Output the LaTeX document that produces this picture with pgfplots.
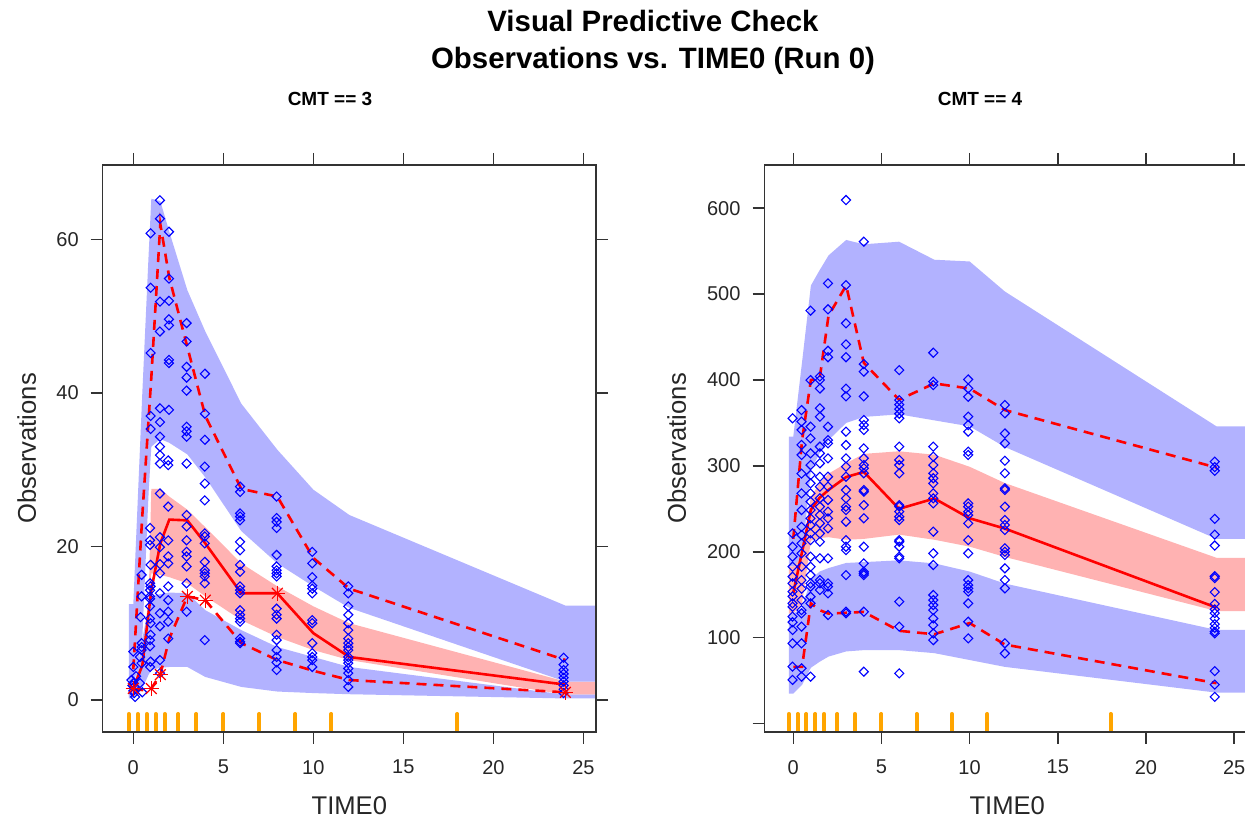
\documentclass[border=0pt]{standalone}
\usepackage{fontspec}
\setmainfont{Liberation Sans}
\usepackage{pgfplots}
\usepackage{pgfplotstable}
\pgfplotsset{compat=1.18}
\usepgfplotslibrary{fillbetween}

\definecolor{piblue}{RGB}{178,178,255}
\definecolor{pired}{RGB}{255,178,178}
\definecolor{rugorange}{RGB}{255,165,0}
\definecolor{axgray}{RGB}{51,51,51}

% prediction intervals (5th pct: lb, median: md, 95th pct: ub), CMT == 3
\pgfplotstableread{
x      ubhi  ublo  mdhi  mdlo  lbhi  lblo
-0.25  12.5  1.5   1.2   0.4   0.9   0.2
0      12.5  1.5   1.2   0.4   0.9   0.2
0.5    40    8     7     3     8     1.5
0.85   58    27    13    8     12    3.3
1      65.3  33    27.5  16.5  13.5  3.9
1.5    65    34    27.5  16.3  13.8  4.2
2      61    33.5  26.5  16    14    4.3
3      53.4  32    24.8  15.2  13.9  4.3
4      48    29    22.5  13.5  11.7  3.0
6      38.6  22    17.8  10.4  9.1   1.7
8      32.6  17.8  14.8  8.2   6.9   1.1
10     27.4  14.8  12.2  6.5   5.6   0.9
12     24.1  12    10    5.2   4.3   0.75
24     12.3  2.4   2.4   0.7   0.7   0.2
25.7   12.3  2.4   2.4   0.7   0.7   0.2
}\bandsA

% CMT == 4
\pgfplotstableread{
x      ubhi  ublo  mdhi  mdlo  lbhi  lblo
-0.25  334   183   183   128   128   35
0      334   183   183   128   128   35
0.5    421   195   200   140   135   45
1      510   295   264   213   168   65
1.5    528   315   280   216   177   72
2      545   330   291   217   181   78
3      563   350   303   214   187   84
4      558   357   314   215   188   85.5
6      561   360   317   220   190   85.5
8      540   353   313   214   186.5 82
10     538   346   299   206   177   74
12     503   322   280   194   163   66
24     346   215   193   131   109   36
25.9   346   215   193   131   109   36
}\bandsB

\pgfplotsset{
  vpc/.style={
    scale only axis, anchor=south west,
    height=283.5pt,
    axis on top,
    axis line style={axgray, line width=0.75pt},
    tick style={axgray, line width=0.75pt},
    tick align=outside, major tick length=6pt,
    tick pos=both, ticklabel pos=left,
    xtick={0,5,...,25},
    ticklabel style={font=\fontsize{10}{12}\selectfont, text=black!85},
    /pgf/number format/assume math mode=true,
    xticklabel style={yshift=-4.5pt},
    yticklabel style={xshift=-2.5pt},
    label style={font=\fontsize{12.8}{15}\selectfont, text=black!85},
    xlabel=TIME0, ylabel=Observations,
    xlabel style={at={([yshift=-37pt]axis description cs:0.5,0)}, anchor=center},
  },
  obs/.style={only marks, mark=square, mark size=1.6pt,
    mark options={rotate=45, draw=blue, line width=0.55pt, fill=none}},
  medline/.style={red, line width=1.3pt, no marks},
  pctline/.style={red, line width=1.3pt, no marks, dash pattern=on 5pt off 3.5pt},
  rug/.style={rugorange, line width=2pt, line cap=round, quiver={u=0,v=#1}},
}

\begin{document}
\begin{tikzpicture}

% ---------------- CMT == 3 ----------------
\begin{axis}[vpc, at={(51.35pt,45pt)}, width=246.65pt,
  xmin=-1.7, xmax=25.7, ymin=-4.17, ymax=69.7,
  ytick={0,20,40,60},
  ylabel style={at={([xshift=-38pt]axis description cs:0,0.5)}, anchor=center}]
\addplot[name path=mhA, draw=none] table[x=x,y=mdhi]{\bandsA};
\addplot[name path=mlA, draw=none] table[x=x,y=mdlo]{\bandsA};
\addplot[pired, draw=none] fill between[of=mhA and mlA];
\addplot[name path=uhA, draw=none] table[x=x,y=ubhi]{\bandsA};
\addplot[name path=ulA, draw=none] table[x=x,y=ublo]{\bandsA};
\addplot[piblue, draw=none] fill between[of=uhA and ulA];
\addplot[name path=lhA, draw=none] table[x=x,y=lbhi]{\bandsA};
\addplot[name path=llA, draw=none] table[x=x,y=lblo]{\bandsA};
\addplot[piblue, draw=none] fill between[of=lhA and llA];

\addplot[obs] coordinates {
(0,6.3) (0,4.3) (-0.1,2.6) (0,2.2) (0.05,1.7) (0,1.2) (0.05,0.9) (0.1,0.4) (-0.05,1.9) (0.15,3.1)
(0.46,16.3) (0.46,13.5) (0.4,10.8) (0.46,7.4) (0.46,6.9) (0.46,6.5) (0.37,5.6) (0.46,4.8) (0.37,2.2) (0.5,1.0)
(0.96,60.8) (0.96,53.7) (0.96,45.2) (0.96,37.0) (0.96,35.3) (0.93,22.4) (0.93,20.8) (0.93,20.2) (0.96,17.6)
(0.93,15.2) (0.96,14.8) (0.93,14.3) (0.93,13.5) (0.93,13.2) (0.93,12.2) (0.93,10.6) (0.96,10.0) (0.96,8.5)
(0.93,7.8) (0.93,7.0) (0.96,5.0) (0.93,4.3)
(1.48,65.1) (1.48,62.7) (1.48,51.9) (1.48,48.0) (1.48,38.0) (1.48,36.2) (1.48,34.3) (1.48,33.0) (1.48,31.9)
(1.48,30.8) (1.48,26.9) (1.48,21.2) (1.48,19.9) (1.48,17.7) (1.48,16.5) (1.48,13.9) (1.48,11.3) (1.48,9.6)
(1.48,5.2) (1.48,3.5)
(1.98,61.0) (1.98,54.9) (1.98,52.0) (1.98,49.6) (1.98,48.8) (1.98,44.3) (1.98,43.9) (1.98,37.8) (1.94,31.2)
(1.94,30.6) (1.94,25.2) (1.94,20.8) (1.94,18.7) (1.94,17.8) (1.94,14.8) (1.94,13.0) (1.94,11.5) (1.94,10.2)
(1.94,8.0)
(2.96,49.1) (2.96,46.7) (2.96,43.4) (2.96,42.0) (2.96,40.3) (2.96,35.6) (2.96,35.0) (2.96,34.3) (2.96,30.8)
(2.96,24.1) (2.96,22.6) (2.96,20.8) (2.96,19.3) (2.96,18.7) (2.96,17.4) (2.96,15.2) (2.96,11.5)
(3.98,42.5) (3.98,37.3) (3.98,33.9) (3.97,30.4) (3.97,28.2) (3.97,26.0) (3.97,21.7) (3.97,21.3) (3.97,20.4)
(3.97,18.0) (3.97,16.9) (3.97,16.5) (3.97,16.1) (3.97,15.2) (3.97,7.8)
(5.93,27.8) (5.93,27.1) (5.93,24.3) (5.93,23.9) (5.93,23.4) (5.93,20.6) (5.93,19.5) (5.93,17.6) (5.93,16.7)
(5.93,14.8) (5.93,14.3) (5.93,13.9) (5.93,11.7) (5.93,11.1) (5.93,10.6) (5.93,10.2) (5.93,8.0) (5.93,7.6)
(5.93,7.4)
(7.96,26.5) (7.96,23.7) (7.96,23.2) (7.96,22.4) (7.96,18.9) (7.96,17.4) (7.96,16.9) (7.96,16.5) (7.96,16.1)
(7.96,11.9) (7.96,11.1) (7.96,10.6) (7.96,8.5) (7.96,7.8) (7.96,6.5) (7.96,5.6) (7.96,4.9) (7.96,3.9)
(9.94,19.3) (9.94,17.8) (9.94,16.0) (9.94,14.9) (9.94,14.5) (9.94,13.9) (9.94,10.4) (9.94,10.0) (9.94,7.4)
(9.94,6.1) (9.94,5.6) (9.94,5.2) (9.94,4.3)
(11.94,14.8) (11.94,13.9) (11.94,12.2) (11.94,11.1) (11.94,10.0) (11.94,9.1) (11.94,8.0) (11.94,7.4)
(11.94,6.9) (11.94,6.5) (11.94,5.6) (11.94,5.2) (11.94,4.8) (11.94,4.1) (11.94,3.5) (11.94,2.6) (11.94,1.7)
(23.9,5.5) (23.9,4.6) (23.9,3.9) (23.9,3.4) (23.9,2.9) (23.9,2.4) (23.9,1.9) (23.9,1.4) (23.9,0.9)
};

\addplot[pctline] coordinates {(0,4) (0.5,24) (1,42) (1.5,62) (2,55) (3,46) (4,37) (6,27.5) (8,26.5) (10,18.5) (12,14.5) (24,5.2)};
\addplot[medline] coordinates {(0,1.5) (0.5,4.5) (1,14.3) (1.5,20.4) (2,23.5) (3,23.4) (4,20.4) (6,13.9) (8,13.9) (10,8.7) (12,5.6) (24,2.0)};
\addplot[pctline] coordinates {(0,1.4) (0.5,1.3) (1,1.5) (1.5,3.3) (2,8) (3,13.5) (4,13) (6,7.4) (8,5.2) (10,3.8) (12,2.6) (24,1.0)};
\addplot[only marks, mark=+, mark size=3.8pt, mark options={red, line width=0.6pt}] coordinates {(0,1.5) (1,1.5) (1.5,3.3) (3,13.5) (4,13) (8,13.9) (24,1.0)};
\addplot[only marks, mark=x, mark size=3.8pt, mark options={red, line width=0.6pt}] coordinates {(0,1.5) (1,1.5) (1.5,3.3) (3,13.5) (4,13) (8,13.9) (24,1.0)};

\addplot[rug=2.35] coordinates {(-0.25,-4.17) (0.25,-4.17) (0.75,-4.17) (1.25,-4.17) (1.75,-4.17) (2.5,-4.17) (3.5,-4.17) (5,-4.17) (7,-4.17) (9,-4.17) (11,-4.17) (18,-4.17)};
\end{axis}

% ---------------- CMT == 4 ----------------
\begin{axis}[vpc, at={(382.25pt,45pt)}, width=242.75pt,
  xmin=-1.63, xmax=25.9, ymin=-9.8, ymax=650.3,
  ytick={0,100,200,300,400,500,600},
  yticklabels={{},100,200,300,400,500,600},
  ylabel style={at={([xshift=-43.9pt]axis description cs:0,0.5)}, anchor=center}]
\addplot[name path=mhB, draw=none] table[x=x,y=mdhi]{\bandsB};
\addplot[name path=mlB, draw=none] table[x=x,y=mdlo]{\bandsB};
\addplot[pired, draw=none] fill between[of=mhB and mlB];
\addplot[name path=uhB, draw=none] table[x=x,y=ubhi]{\bandsB};
\addplot[name path=ulB, draw=none] table[x=x,y=ublo]{\bandsB};
\addplot[piblue, draw=none] fill between[of=uhB and ulB];
\addplot[name path=lhB, draw=none] table[x=x,y=lbhi]{\bandsB};
\addplot[name path=llB, draw=none] table[x=x,y=lblo]{\bandsB};
\addplot[piblue, draw=none] fill between[of=lhB and llB];

\addplot[obs] coordinates {
(-0.04,355.4) (-0.04,221.4) (-0.04,205.9) (-0.04,194.3) (-0.04,182.6) (-0.04,171) (-0.04,163.3) (-0.04,153.6)
(-0.04,148) (-0.04,140) (-0.04,136) (-0.04,124.5) (-0.04,118) (-0.04,109) (-0.04,93.4) (-0.04,66.3) (-0.04,50.8)
(0.47,365) (0.47,351.5) (0.47,341.8) (0.47,324.4) (0.47,312.7) (0.47,291) (0.47,268) (0.47,248.6) (0.47,229)
(0.47,219.5) (0.47,209.8) (0.47,198.2) (0.47,182.6) (0.47,167) (0.47,157) (0.47,143.8) (0.47,132.1)
(0.47,128.3) (0.47,112.8) (0.47,93.4) (0.47,64.3) (0.47,54.6)
(0.98,480.7) (0.98,399.9) (0.98,345.6) (0.98,332) (0.98,314.6) (0.98,301) (0.98,289.4) (0.98,279.7)
(0.98,268) (0.98,258.3) (0.98,248.6) (0.98,238.9) (0.98,231) (0.98,221.4) (0.98,213.6) (0.98,194.3)
(0.98,182.6) (0.98,172.9) (0.98,163.3) (0.98,159.4) (0.98,147.7) (0.98,140) (0.98,54.6)
(1.51,404) (1.51,400) (1.51,390) (1.51,367) (1.51,357.3) (1.51,322.4) (1.51,314.6) (1.51,303) (1.51,287.4)
(1.51,275.8) (1.51,262.2) (1.51,252.5) (1.51,242.8) (1.51,233.1) (1.51,221.4) (1.51,211.7) (1.51,192.4)
(1.51,167.1) (1.51,163.3) (1.51,155.5)
(1.97,512.5) (1.97,482.3) (1.97,434) (1.97,426.5) (1.97,345.6) (1.97,330) (1.97,326.2) (1.97,308.8)
(1.97,287.4) (1.97,275.8) (1.97,260.3) (1.97,246.7) (1.97,238.9) (1.97,227.3) (1.97,192.4) (1.97,163.3)
(1.97,159.4) (1.97,151.6) (1.97,126.4)
(2.99,609.5) (2.99,510.5) (2.99,466) (2.99,441.5) (2.99,426.5) (2.99,390) (2.99,381) (2.99,339.8) (2.99,324.3)
(2.99,308.8) (2.99,299.1) (2.99,287.4) (2.99,271.9) (2.99,262.2) (2.99,252.5) (2.99,248.6) (2.99,235)
(2.99,213.6) (2.99,205.9) (2.99,202) (2.99,172.9) (2.99,130.2) (2.99,128.3)
(4.0,561) (4.0,418.6) (4.0,409.7) (4.0,381) (4.0,353.4) (4.0,347.6) (4.0,341.8) (4.0,320.4) (4.0,308.8)
(4.0,301) (4.0,297.2) (4.0,291.4) (4.0,271.9) (4.0,270) (4.0,254.4) (4.0,239) (4.0,205.9) (4.0,186.5)
(4.0,176.8) (4.0,174.9) (4.0,172.9) (4.0,130.2) (4.0,60.4)
(6.01,411.5) (6.01,376.6) (6.01,371.3) (6.01,366) (6.01,360.7) (6.01,355.4) (6.01,322.4) (6.01,306.9)
(6.01,301) (6.01,291.4) (6.01,254.4) (6.01,252.5) (6.01,246.7) (6.01,240.8) (6.01,237) (6.01,213.6)
(6.01,211.7) (6.01,205.9) (6.01,194.3) (6.01,192.4) (6.01,141.9) (6.01,112.8) (6.01,58.5)
(7.94,431.7) (7.94,398) (7.94,394) (7.94,322.4) (7.94,310.7) (7.94,301) (7.94,291.4) (7.94,285.6)
(7.94,279.7) (7.94,268) (7.94,262.2) (7.94,256.4) (7.94,223.4) (7.94,198.2) (7.94,184.6) (7.94,149.7)
(7.94,143.8) (7.94,138) (7.94,132.1) (7.94,122.4) (7.94,114.6) (7.94,104.9) (7.94,97.1)
(9.92,400.6) (9.92,390.2) (9.92,380.5) (9.92,357.3) (9.92,347.6) (9.92,339.8) (9.92,316.6) (9.92,312.7)
(9.92,256.4) (9.92,252.5) (9.92,246.7) (9.92,242.8) (9.92,233.1) (9.92,213.6) (9.92,198.2) (9.92,167.1)
(9.92,161.3) (9.92,157.4) (9.92,153.6) (9.92,140) (9.92,118.6) (9.92,99.2)
(12.0,370.9) (12.0,361.2) (12.0,337.8) (12.0,326.2) (12.0,306) (12.0,291.4) (12.0,273.9) (12.0,272)
(12.0,252.5) (12.0,237) (12.0,231.2) (12.0,225.4) (12.0,204) (12.0,200.1) (12.0,196.3) (12.0,180.7)
(12.0,167.1) (12.0,157.4) (12.0,93.4) (12.0,81.7)
(23.9,305) (23.9,298.6) (23.9,294.3) (23.9,238.3) (23.9,220) (23.9,207.3) (23.9,171.5) (23.9,169.4)
(23.9,153) (23.9,139.4) (23.9,132.9) (23.9,128.6) (23.9,122.2) (23.9,115.7) (23.9,111.4) (23.9,107.1)
(23.9,105) (23.9,61) (23.9,45.3) (23.9,31.1)
};

\addplot[pctline] coordinates {(0,215) (0.5,330) (1,400) (1.5,402) (2,475) (3,510) (4,420) (6,377) (8,396) (10,390) (12,365) (24,298)};
\addplot[medline] coordinates {(0,152) (0.5,200) (1,249) (1.5,263) (2,272) (3,287) (4,293) (6,250) (8,262) (10,239) (12,227) (24,135)};
\addplot[pctline] coordinates {(0,66) (0.5,66) (1,140) (1.5,132) (2,128) (3,129) (4,130) (6,108) (8,104) (10,117) (12,92) (24,47)};

\addplot[rug=21] coordinates {(-0.25,-9.8) (0.25,-9.8) (0.75,-9.8) (1.25,-9.8) (1.75,-9.8) (2.5,-9.8) (3.5,-9.8) (5,-9.8) (7,-9.8) (9,-9.8) (11,-9.8) (18,-9.8)};
\end{axis}

\node[anchor=base, font=\bfseries\fontsize{14.7}{17}\selectfont] at (326.5pt,395.15pt) {Visual Predictive Check};
\node[anchor=base, font=\bfseries\fontsize{14.7}{17}\selectfont] at (326.5pt,376.5pt) {Observations vs. TIME0 (Run 0)};
\node[anchor=base, font=\bfseries\fontsize{9.5}{11}\selectfont] at (165pt,358pt) {CMT == 3};
\node[anchor=base, font=\bfseries\fontsize{9.5}{11}\selectfont] at (490pt,358pt) {CMT == 4};

\pgfresetboundingbox
\useasboundingbox (0,0) rectangle (622.5pt,411pt);
\end{tikzpicture}
\end{document}
